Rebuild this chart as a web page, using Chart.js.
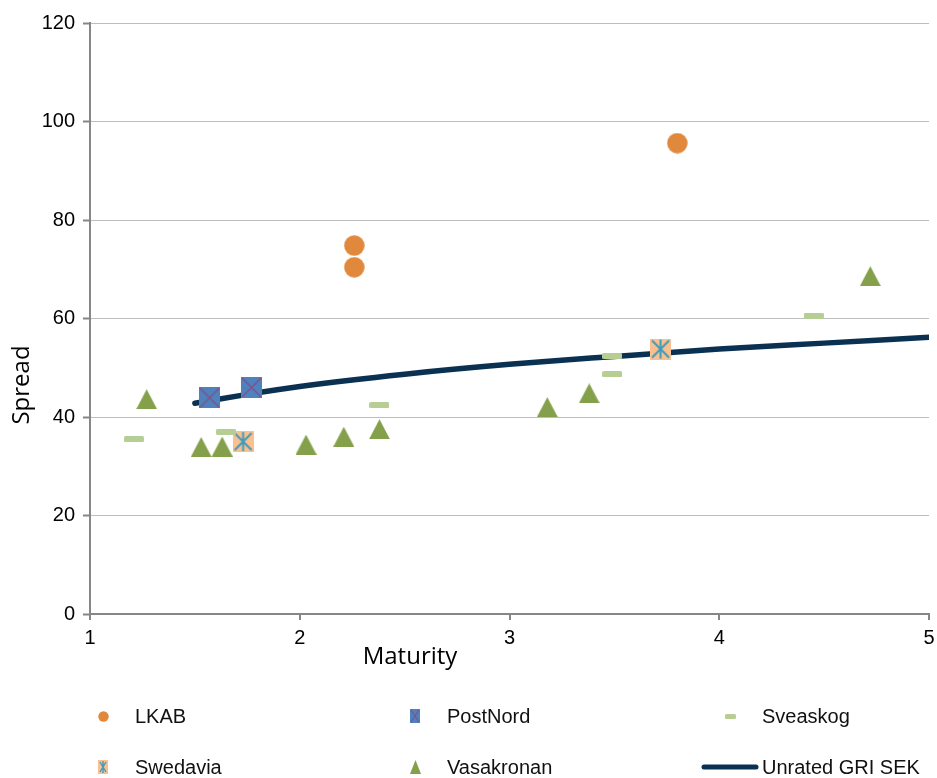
<!DOCTYPE html>
<html>
<head>
<meta charset="utf-8">
<script src="https://cdn.jsdelivr.net/npm/chart.js@4.4.1/dist/chart.umd.min.js"></script>
<style>
  html, body { margin: 0; padding: 0; background: #fff; }
  #wrap { width: 937px; height: 778px; position: relative; }
</style>
</head>
<body>
<div id="wrap"><canvas id="spreadChart"></canvas></div>
<script>
// values
const lkabX = [2.26, 2.26, 3.80];
const lkabY = [74.8, 70.4, 95.6];
const postNordX = [1.57, 1.77];
const postNordY = [43.9, 46.0];
const sveaskogX = [1.21, 1.65, 2.38, 3.49, 3.49, 4.45];
const sveaskogY = [35.5, 37.0, 42.4, 52.4, 48.7, 60.6];
const swedaviaX = [1.73, 3.72];
const swedaviaY = [35.0, 53.8];
const vasakronanX = [1.27, 1.53, 1.63, 2.03, 2.21, 2.38, 3.18, 3.38, 4.72];
const vasakronanY = [43.6, 33.9, 34.0, 34.4, 36.0, 37.5, 42.0, 44.8, 68.6];
const curveX = [1.5, 1.75, 2, 2.5, 3, 3.5, 4, 4.5, 5];
const curveY = [42.8, 44.6, 46.2, 48.7, 50.7, 52.3, 53.8, 55.0, 56.2];
const xTicks = [1, 2, 3, 4, 5];
const yTicks = [0, 20, 40, 60, 80, 100, 120];

function pts(xs, ys) {
    return xs.map((x, i) => ({ x: x, y: ys[i] }));
}

// marker images
function makeMarker(w, h, draw) {
    const c = document.createElement('canvas');
    c.width = w; c.height = h;
    draw(c.getContext('2d'), w, h);
    return c;
}
function circleMarker(d) {
    return makeMarker(d, d, (g, w, h) => {
        g.fillStyle = '#E0883C';
        g.beginPath(); g.arc(w / 2, h / 2, w / 2 - 0.3, 0, Math.PI * 2); g.fill();
    });
}
function postNordMarker(w, h, lw) {
    return makeMarker(w, h, (g) => {
        g.fillStyle = '#4F81BD';
        g.fillRect(0, 0, w, h);
        g.strokeStyle = '#7B5590';
        g.lineWidth = lw;
        g.beginPath();
        g.moveTo(1, 1); g.lineTo(w - 1, h - 1);
        g.moveTo(w - 1, 1); g.lineTo(1, h - 1);
        g.stroke();
    });
}
function swedaviaMarker(w, h, lw) {
    return makeMarker(w, h, (g) => {
        g.fillStyle = '#FAC090';
        g.fillRect(0, 0, w, h);
        g.strokeStyle = '#3E9CBB';
        g.lineWidth = lw;
        g.beginPath();
        g.moveTo(w / 2, 1); g.lineTo(w / 2, h - 1);
        g.moveTo(2, 2); g.lineTo(w - 2, h - 2);
        g.moveTo(w - 2, 2); g.lineTo(2, h - 2);
        g.stroke();
    });
}
function dashMarker(w, h) {
    return makeMarker(w, h, (g) => {
        g.fillStyle = '#B6CD93';
        g.beginPath();
        g.roundRect(0, 0, w, h, 1.5);
        g.fill();
    });
}
function triangleMarker(w, h) {
    return makeMarker(w, h, (g) => {
        g.fillStyle = '#84A04A';
        g.beginPath();
        g.moveTo(w / 2, 0); g.lineTo(w, h); g.lineTo(0, h);
        g.closePath(); g.fill();
    });
}

const lkabImg = circleMarker(21);
const postNordImg = postNordMarker(21, 21, 1.6);
const sveaskogImg = dashMarker(20, 6);
const swedaviaImg = swedaviaMarker(21, 21, 2);
const vasakronanImg = triangleMarker(21, 20);

const legendItems = [
    { text: 'LKAB', img: circleMarker(11), x: 103, y: 716 },
    { text: 'PostNord', img: postNordMarker(10, 14, 1.2), x: 415, y: 716 },
    { text: 'Sveaskog', img: dashMarker(11, 5), x: 730, y: 716 },
    { text: 'Swedavia', img: swedaviaMarker(10, 14, 1.4), x: 103, y: 767 },
    { text: 'Vasakronan', img: triangleMarker(11, 14), x: 415, y: 767 },
    { text: 'Unrated GRI SEK', line: true, x: 730, y: 767 }
];

const extras = {
    id: 'extras',
    afterDraw(chart) {
        const ctx = chart.ctx;
        ctx.save();
        // axis titles
        ctx.fillStyle = '#000';
        ctx.font = '24px "Open Sans"';
        ctx.textAlign = 'center';
        ctx.textBaseline = 'middle';
        ctx.fillText('Maturity', 410, 657);
        ctx.save();
        ctx.translate(22, 385);
        ctx.rotate(-Math.PI / 2);
        ctx.fillText('Spread', 0, 0);
        ctx.restore();
        // legend
        ctx.font = '20px "Liberation Sans", Arial';
        ctx.textAlign = 'left';
        legendItems.forEach(it => {
            if (it.line) {
                ctx.strokeStyle = '#0B3152';
                ctx.lineWidth = 5;
                ctx.lineCap = 'round';
                ctx.beginPath();
                ctx.moveTo(it.x - 26, it.y);
                ctx.lineTo(it.x + 26, it.y);
                ctx.stroke();
            } else {
                ctx.drawImage(it.img, Math.round(it.x - it.img.width / 2), Math.round(it.y - it.img.height / 2));
            }
            ctx.fillStyle = '#111';
            ctx.fillText(it.text, it.x + 32, it.y + 1);
        });
        ctx.restore();
    }
};

const ctx = document.getElementById('spreadChart').getContext('2d');
const spreadChart = new Chart(ctx, {
    type: 'scatter',
    data: {
        datasets: [
            { label: 'LKAB', data: pts(lkabX, lkabY), pointStyle: lkabImg },
            { label: 'PostNord', data: pts(postNordX, postNordY), pointStyle: postNordImg },
            { label: 'Sveaskog', data: pts(sveaskogX, sveaskogY), pointStyle: sveaskogImg },
            { label: 'Swedavia', data: pts(swedaviaX, swedaviaY), pointStyle: swedaviaImg },
            { label: 'Vasakronan', data: pts(vasakronanX, vasakronanY), pointStyle: vasakronanImg },
            {
                label: 'Unrated GRI SEK',
                type: 'line',
                data: pts(curveX, curveY),
                borderColor: '#0B3152',
                borderWidth: 5.5,
                borderCapStyle: 'round',
                pointRadius: 0,
                cubicInterpolationMode: 'monotone',
                order: 1
            }
        ]
    },
    options: {
        responsive: true,
        maintainAspectRatio: false,
        animation: false,
        layout: { padding: { top: 23, right: 8, left: 0, bottom: 0 } },
        plugins: { legend: { display: false }, tooltip: { enabled: false } },
        scales: {
            x: {
                type: 'linear',
                min: 1,
                max: 5,
                afterBuildTicks: (axis) => { axis.ticks = xTicks.map(v => ({ value: v })); },
                afterFit: (axis) => { axis.height = 164; axis.paddingLeft = 0; axis.paddingRight = 0; },
                ticks: { color: '#000', font: { family: '"Liberation Sans", Arial', size: 20 }, padding: 6, maxRotation: 0 },
                grid: { drawOnChartArea: false, color: '#868686', tickLength: 6, lineWidth: 2 },
                border: { color: '#868686', width: 2 }
            },
            y: {
                min: 0,
                max: 120,
                afterBuildTicks: (axis) => { axis.ticks = yTicks.map(v => ({ value: v })); },
                afterFit: (axis) => { axis.width = 90; },
                ticks: { color: '#000', font: { family: '"Liberation Sans", Arial', size: 20 }, padding: 8 },
                grid: { color: '#BDBDBD', lineWidth: 1, tickLength: 7, tickColor: '#868686', tickWidth: 2 },
                border: { color: '#868686', width: 2 }
            }
        }
    },
    plugins: [extras]
});
</script>
</body>
</html>
